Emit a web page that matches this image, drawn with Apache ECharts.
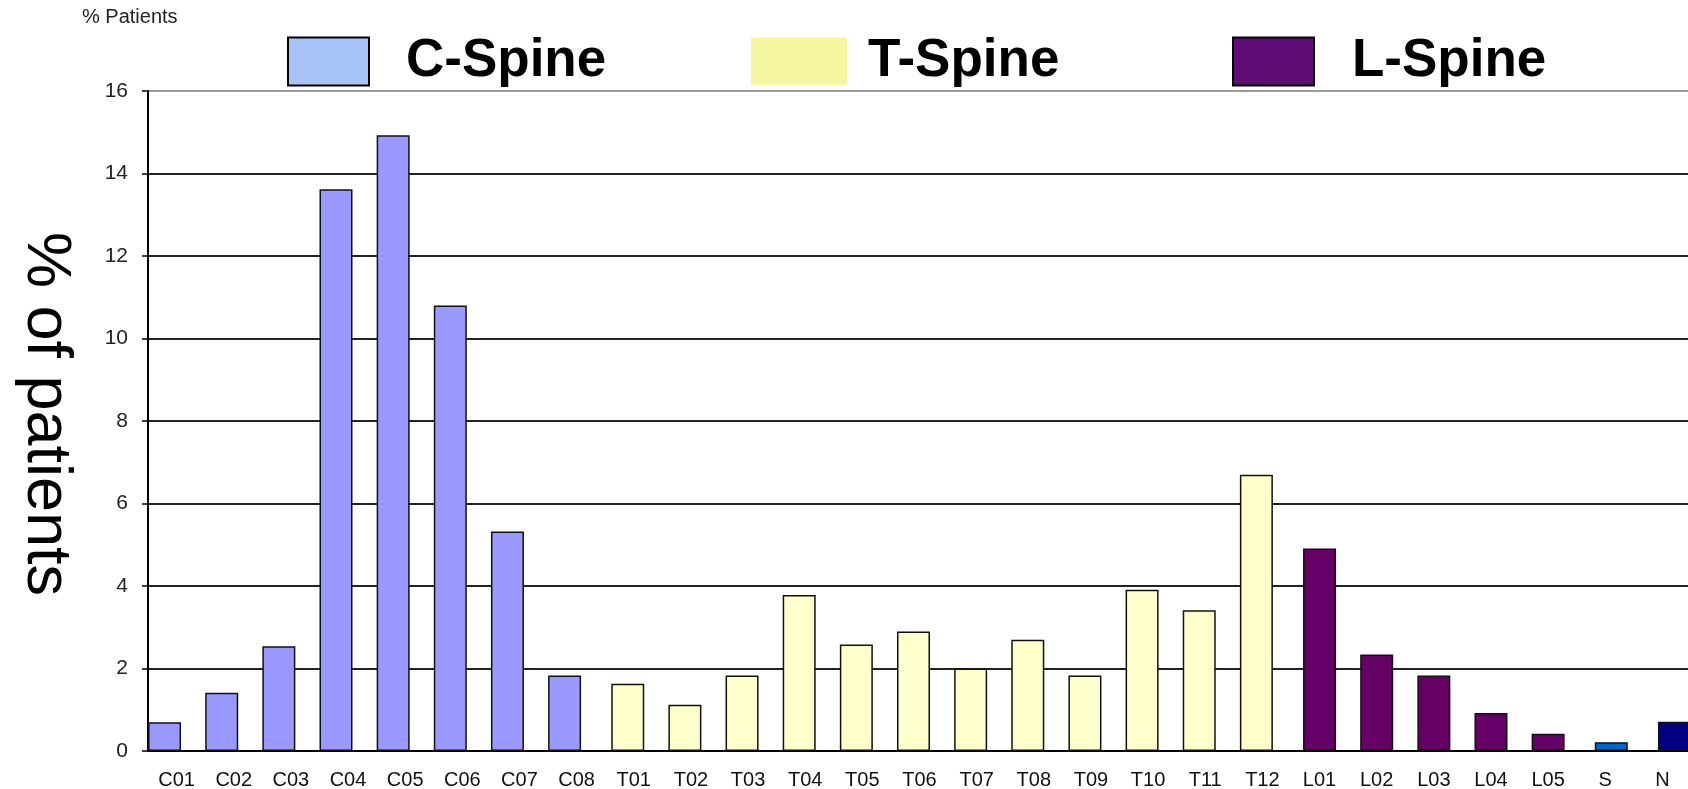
<!DOCTYPE html>
<html>
<head>
<meta charset="utf-8">
<title>% of patients by spine level</title>
<script src="https://cdn.jsdelivr.net/npm/echarts@6.0.0/dist/echarts.min.js"></script>
<style>
    html, body { margin: 0; padding: 0; background: #fff; }
    #chart { width: 1688px; height: 789px; }
</style>
</head>
<body>
<div id="chart"></div>
<script>
// categories on the x axis
const categories = ['C01', 'C02', 'C03', 'C04', 'C05', 'C06', 'C07', 'C08',
    'T01', 'T02', 'T03', 'T04', 'T05', 'T06', 'T07', 'T08', 'T09', 'T10', 'T11', 'T12',
    'L01', 'L02', 'L03', 'L04', 'L05', 'S', 'N'];

// % of patients per level
const cSpine = [0.70, 1.41, 2.54, 13.62, 14.93, 10.8, 5.32, 1.83];
const tSpine = [1.63, 1.12, 1.83, 3.78, 2.58, 2.9, 2.0, 2.7, 1.83, 3.91, 3.41, 6.7];
const lSpine = [4.91, 2.34, 1.83, 0.92, 0.42];
const sValues = [0.21];
const nValues = [0.71];

const yTicks = [0, 2, 4, 6, 8, 10, 12, 14, 16];

// put a group's values at its place among all categories, '-' elsewhere
function place(values, first) {
    let arr = categories.map(() => '-');
    values.forEach((v, i) => { arr[first + i] = v; });
    return arr;
}

function barSeries(name, color, data) {
    return {
        name: name,
        type: 'bar',
        data: data,
        barWidth: 33,
        barGap: '-81.8%',
        itemStyle: { color: color, borderColor: '#111', borderWidth: 1.5 }
    };
}

function legendFor(name, left, width, swatch, border, textPad) {
    return {
        data: [{ name: name, itemStyle: { color: swatch, borderColor: '#000', borderWidth: border } }],
        left: left,
        top: 35,
        padding: 0,
        icon: 'rect',
        itemWidth: width,
        itemHeight: 48,
        selectedMode: false,
        textStyle: {
            fontFamily: 'Liberation Sans, Arial, sans-serif',
            fontSize: 53,
            fontWeight: 'bold',
            color: '#000',
            padding: [11, 0, 0, textPad]
        }
    };
}

let myChart = echarts.init(document.getElementById('chart'));

let gridColors = yTicks.map((t, i) => i === yTicks.length - 1 ? '#9a9a9a' : '#222');

let option = {
    backgroundColor: '#fff',
    animation: false,
    textStyle: { fontFamily: 'Liberation Sans, Arial, sans-serif' },
    title: {
        text: '% Patients',
        left: 82,
        top: 7,
        padding: 0,
        textStyle: { fontSize: 20, fontWeight: 'normal', color: '#222' }
    },
    legend: [
        legendFor('C-Spine', 287, 81, '#A7C3F7', 2, 32),
        legendFor('T-Spine', 751, 96, '#F4F79F', 0, 16),
        legendFor('L-Spine', 1232, 81, '#5F0E78', 2, 33)
    ],
    grid: { left: 148, top: 91, right: -3, bottom: 38, outerBoundsMode: 'none' },
    xAxis: {
        type: 'category',
        data: categories,
        axisLine: { lineStyle: { color: '#000', width: 2 } },
        axisTick: { length: 6, lineStyle: { color: '#000', width: 1.5 } },
        axisLabel: { interval: 0, margin: 19, fontSize: 20, color: '#111' }
    },
    yAxis: {
        type: 'value',
        min: 0,
        max: 16,
        interval: 2,
        name: '% of patients',
        nameLocation: 'middle',
        nameRotate: -90,
        nameGap: 71,
        nameTextStyle: { fontSize: 63, color: '#000', padding: [0, 14, 0, 0] },
        axisLine: { show: true, lineStyle: { color: '#000', width: 2 } },
        axisTick: { show: true, length: 6, lineStyle: { color: '#000', width: 1.5 } },
        axisLabel: { margin: 20, fontSize: 21, color: '#222' },
        splitLine: { lineStyle: { color: gridColors, width: 2 } }
    },
    series: [
        barSeries('C-Spine', '#9999FF', place(cSpine, 0)),
        barSeries('T-Spine', '#FFFFCC', place(tSpine, 8)),
        barSeries('L-Spine', '#660066', place(lSpine, 20)),
        barSeries('S', '#0066CC', place(sValues, 25)),
        barSeries('N', '#000080', place(nValues, 26))
    ]
};

myChart.setOption(option);
</script>
</body>
</html>
